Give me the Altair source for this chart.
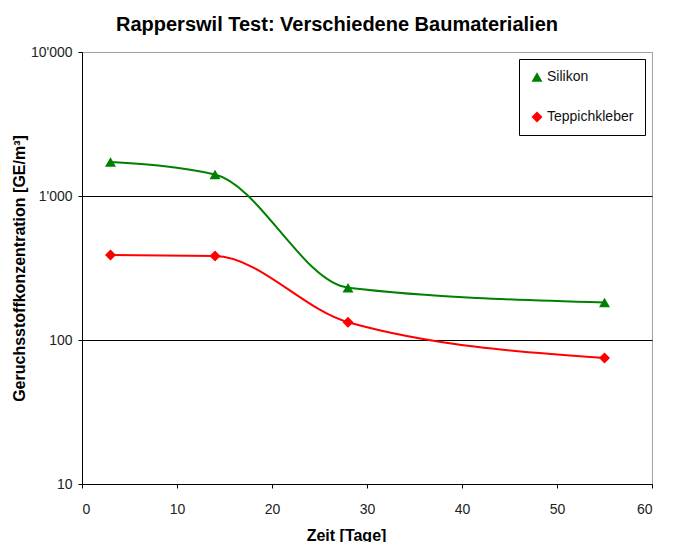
import altair as alt
import pandas as pd

days = [3, 14, 28, 55]
silikon = [1720, 1410, 231, 182]
teppichkleber = [389, 383, 133, 75]
series_names = ["Silikon", "Teppichkleber"]
series_colors = ["#008000", "#FF0000"]
series_shapes = ["triangle-up", "diamond"]
y_ticks = [10, 100, 1000, 10000]
x_ticks = [0, 10, 20, 30, 40, 50, 60]

rows = []
for name, vals in zip(series_names, [silikon, teppichkleber]):
    for d, v in zip(days, vals):
        rows.append({"Zeit": d, "Wert": v, "Serie": name})
df = pd.DataFrame(rows)

FONT = "Liberation Sans"

x_enc = alt.X(
    "Zeit:Q",
    scale=alt.Scale(domain=[0, 60], nice=False),
    axis=alt.Axis(
        values=x_ticks, grid=False, title="Zeit [Tage]",
        titleX=264, titleY=56, titleBaseline="alphabetic", titleAnchor="start",
        titleAlign="center",
        labelPadding=14, tickSize=4,
    ),
)
y_enc = alt.Y(
    "Wert:Q",
    scale=alt.Scale(type="log", domain=[10, 10000], nice=False),
    axis=alt.Axis(
        values=y_ticks, grid=True,
        gridColor={"condition": {"test": "datum.value >= 10000", "value": "#a0a0a0"}, "value": "black"},
        gridWidth=1,
        labelExpr="replace(format(datum.value, ','), /,/g, \"'\")",
        title="Geruchsstoffkonzentration [GE/m³]",
        titlePadding=3, labelPadding=6, tickSize=4,
    ),
)

color_scale = alt.Scale(domain=series_names, range=series_colors)
shape_scale = alt.Scale(domain=series_names, range=series_shapes)

legend = alt.Legend(
    title=None, orient="top-right", offset=7,
    strokeColor="black", fillColor="white",
    padding=11, rowPadding=26,
    labelFont=FONT, labelFontSize=14, labelColor="#111111",
    symbolSize=120, labelOffset=3, symbolStrokeWidth=0,
)

lines = alt.Chart(df).mark_line(interpolate="monotone", strokeWidth=2).encode(
    x=x_enc, y=y_enc,
    color=alt.Color("Serie:N", scale=color_scale, legend=None),
    detail="Serie:N",
)

points = alt.Chart(df).mark_point(filled=True, size=120, opacity=1).encode(
    x=x_enc, y=y_enc,
    color=alt.Color("Serie:N", scale=color_scale, legend=legend),
    shape=alt.Shape("Serie:N", scale=shape_scale, legend=legend),
)

chart = alt.layer(lines, points).resolve_legend(
    color="independent", shape="independent"
).properties(
    width=570, height=432,
    padding={"left": 74, "top": 44, "right": 15, "bottom": 58},
    autosize=alt.AutoSizeParams(type="none"),
    title=alt.TitleParams(
        "Rapperswil Test: Verschiedene Baumaterialien",
        fontSize=20, fontWeight="bold", font=FONT, color="black",
        anchor="middle", dx=-30, offset=-10, baseline="bottom",
    ),
).configure_view(
    stroke="#a0a0a0", strokeWidth=1,
).configure_axis(
    labelFont=FONT, labelFontSize=14, labelColor="#222222",
    titleFont=FONT, titleFontSize=16, titleFontWeight="bold", titleColor="black",
    domainColor="black", tickColor="black", domainWidth=1,
)

chart.save("out.html", embed_options={"renderer": "svg", "actions": False})
